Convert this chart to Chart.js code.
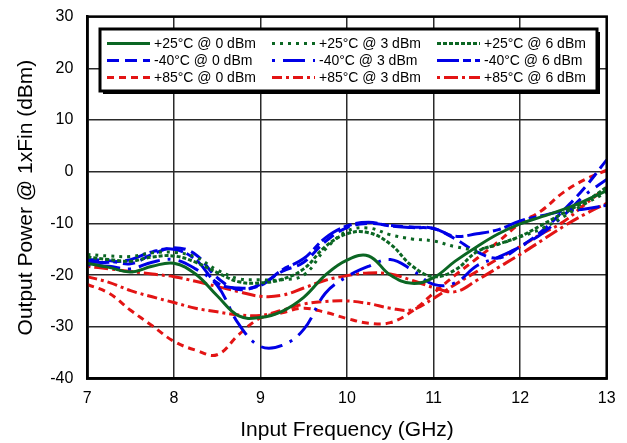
<!DOCTYPE html>
<html>
<head>
<meta charset="utf-8">
<script src="https://cdn.jsdelivr.net/npm/chart.js@4.4.1/dist/chart.umd.min.js"></script>
<style>
  body { margin: 0; background: #fff; }
  #chart { display: block; }
</style>
</head>
<body>
<canvas id="chart" width="627" height="443"></canvas>
<script>
// Input frequency sweep (GHz)
const freqs = [7, 7.25, 7.5, 7.75, 8, 8.25, 8.5, 8.75, 9, 9.25, 9.5, 9.75, 10,
  10.25, 10.5, 10.75, 11, 11.25, 11.5, 11.75, 12, 12.25, 12.5, 12.75, 13];

// Output power (dBm)
const p25at0 = [-17.7, -18.5, -19.4, -18.3, -17.7, -19.8, -24.0, -27.9, -28.2, -27.0, -24.3, -20.0, -17.1,
  -16.3, -20.0, -21.6, -20.5, -17.3, -14.5, -12.0, -10.1, -8.7, -7.3, -5.6, -3.7];
const p25at3 = [-16.0, -16.3, -16.4, -15.7, -15.6, -16.5, -19.0, -20.7, -20.9, -20.9, -20.0, -15.0, -11.5,
  -10.9, -12.2, -13.0, -13.4, -14.5, -15.0, -14.0, -12.6, -11.0, -8.7, -6.2, -4.0];
const p25at6 = [-16.5, -17.0, -17.3, -16.5, -16.3, -17.5, -19.5, -21.3, -21.5, -20.8, -18.8, -14.5, -12.0,
  -11.8, -14.0, -18.2, -20.3, -19.0, -15.5, -14.0, -12.5, -10.3, -8.0, -5.8, -3.0];
const m40at0 = [-17.0, -17.2, -17.8, -16.0, -14.7, -16.0, -20.5, -22.8, -21.8, -19.3, -17.5, -13.5, -10.8,
  -10.0, -10.4, -10.7, -11.0, -13.0, -15.5, -16.7, -14.5, -11.5, -7.5, -3.0, 2.3];
const m40at3 = [-18.0, -18.3, -18.8, -17.5, -17.0, -18.8, -22.0, -29.5, -33.8, -33.6, -30.5, -23.5, -20.3,
  -18.3, -17.0, -19.0, -21.8, -21.5, -18.2, -16.5, -14.5, -12.0, -8.5, -4.5, -1.5];
const m40at6 = [-17.5, -17.5, -17.0, -15.5, -15.0, -17.0, -21.5, -22.5, -22.0, -19.0, -16.8, -12.8, -10.5,
  -9.8, -10.5, -10.8, -11.0, -12.5, -12.0, -11.2, -9.5, -8.5, -7.6, -7.2, -6.5];
const p85at0 = [-21.8, -23.5, -26.8, -29.8, -32.8, -34.5, -35.4, -31.5, -28.3, -27.3, -26.4, -27.2, -28.4,
  -29.3, -29.2, -27.0, -23.5, -20.0, -16.8, -13.5, -10.0, -7.5, -4.0, -1.5, 0.3];
const p85at3 = [-20.3, -21.4, -23.0, -24.2, -25.3, -26.4, -27.1, -27.7, -27.8, -26.8, -25.6, -25.1, -25.0,
  -25.5, -26.4, -26.7, -24.5, -21.8, -19.3, -16.8, -14.5, -12.0, -9.7, -6.3, -3.0];
const p85at6 = [-18.3, -18.8, -19.3, -19.8, -20.3, -21.2, -22.2, -23.2, -24.1, -23.9, -22.5, -21.0, -20.1,
  -19.6, -19.8, -21.0, -22.4, -23.2, -21.0, -18.5, -16.0, -13.3, -10.6, -8.2, -6.1];

const labels = ['+25°C @ 0 dBm', '+25°C @ 3 dBm', '+25°C @ 6 dBm',
  '-40°C @ 0 dBm', '-40°C @ 3 dBm', '-40°C @ 6 dBm',
  '+85°C @ 0 dBm', '+85°C @ 3 dBm', '+85°C @ 6 dBm'];
const values = [p25at0, p25at3, p25at6, m40at0, m40at3, m40at6, p85at0, p85at3, p85at6];
const xTicks = [7, 8, 9, 10, 11, 12, 13];
const yTicks = [-40, -30, -20, -10, 0, 10, 20, 30];

const GREEN = '#0b6623', BLUE = '#0000e6', RED = '#e31414';
const colors = [GREEN, GREEN, GREEN, BLUE, BLUE, BLUE, RED, RED, RED];
const dashes = [[], [3, 5], [4, 2], [12, 6], [3, 8, 22, 8], [22, 4, 8, 4], [7, 5], [10, 4, 3, 4], [3, 4, 14, 4]];

const FONT = 'Arial, "Liberation Sans", sans-serif';

// box outline around plot + the legend box
const framePlugin = {
  id: 'frame',
  afterDraw(chart) {
    const { ctx, chartArea: a } = chart;
    ctx.save();
    ctx.strokeStyle = '#000';
    ctx.lineWidth = 2.5;
    ctx.strokeRect(a.left, a.top, a.right - a.left, a.bottom - a.top);

    // legend
    const bx = 100, by = 29, bw = 497, bh = 62;
    ctx.fillStyle = '#000';
    ctx.fillRect(bx + 3, by + 3, bw, bh);
    ctx.fillStyle = '#fff';
    ctx.fillRect(bx, by, bw, bh);
    ctx.lineWidth = 3;
    ctx.strokeRect(bx, by, bw, bh);

    const colX = [107, 272, 437];
    const rowY = [43.5, 60.5, 77.5];
    ctx.font = '14px ' + FONT;
    ctx.textBaseline = 'middle';
    labels.forEach((lab, i) => {
      const x = colX[i % 3], y = rowY[Math.floor(i / 3)];
      ctx.beginPath();
      ctx.setLineDash(dashes[i]);
      ctx.strokeStyle = colors[i];
      ctx.lineWidth = 3;
      ctx.moveTo(x, y);
      ctx.lineTo(x + 43, y);
      ctx.stroke();
      ctx.setLineDash([]);
      ctx.fillStyle = '#000';
      ctx.fillText(lab, x + 47, y + 1);
    });
    ctx.restore();
  }
};

const ctx = document.getElementById('chart').getContext('2d');
new Chart(ctx, {
  type: 'line',
  data: {
    datasets: values.map((vals, i) => ({
      label: labels[i],
      data: freqs.map((f, j) => ({ x: f, y: vals[j] })),
      borderColor: colors[i],
      borderDash: dashes[i],
      borderWidth: 3,
      pointRadius: 0,
      tension: 0.4,
      fill: false
    }))
  },
  options: {
    responsive: false,
    animation: false,
    devicePixelRatio: 1,
    layout: { padding: { left: 0, top: 16.6, right: 20.3, bottom: 0 } },
    plugins: { legend: { display: false }, tooltip: { enabled: false } },
    scales: {
      x: {
        type: 'linear', min: 7, max: 13,
        afterBuildTicks: s => { s.ticks = xTicks.map(v => ({ value: v })); },
        afterFit: s => { s.height = 64.5; s.paddingLeft = 0; s.paddingRight = 0; },
        ticks: { color: '#000', padding: 10, font: { family: FONT, size: 16 } },
        grid: { color: '#2a2a2a', lineWidth: 1.5, drawTicks: false },
        border: { color: '#000', width: 2.5 },
        title: { display: true, text: 'Input Frequency (GHz)', color: '#000',
          font: { family: FONT, size: 21 }, padding: { top: 0, bottom: 0 } }
      },
      y: {
        min: -40, max: 30,
        afterBuildTicks: s => { s.ticks = yTicks.map(v => ({ value: v })); },
        afterFit: s => { s.width = 87.3; s.paddingTop = 0; s.paddingBottom = 0; },
        ticks: { color: '#000', padding: 14, font: { family: FONT, size: 16 } },
        grid: { color: '#2a2a2a', lineWidth: 1.5, drawTicks: false },
        border: { color: '#000', width: 2.5 },
        title: { display: true, text: 'Output Power @ 1xFin (dBm)', color: '#000',
          font: { family: FONT, size: 21 }, padding: { top: 14, bottom: 0 } }
      }
    }
  },
  plugins: [framePlugin]
});
</script>
</body>
</html>
